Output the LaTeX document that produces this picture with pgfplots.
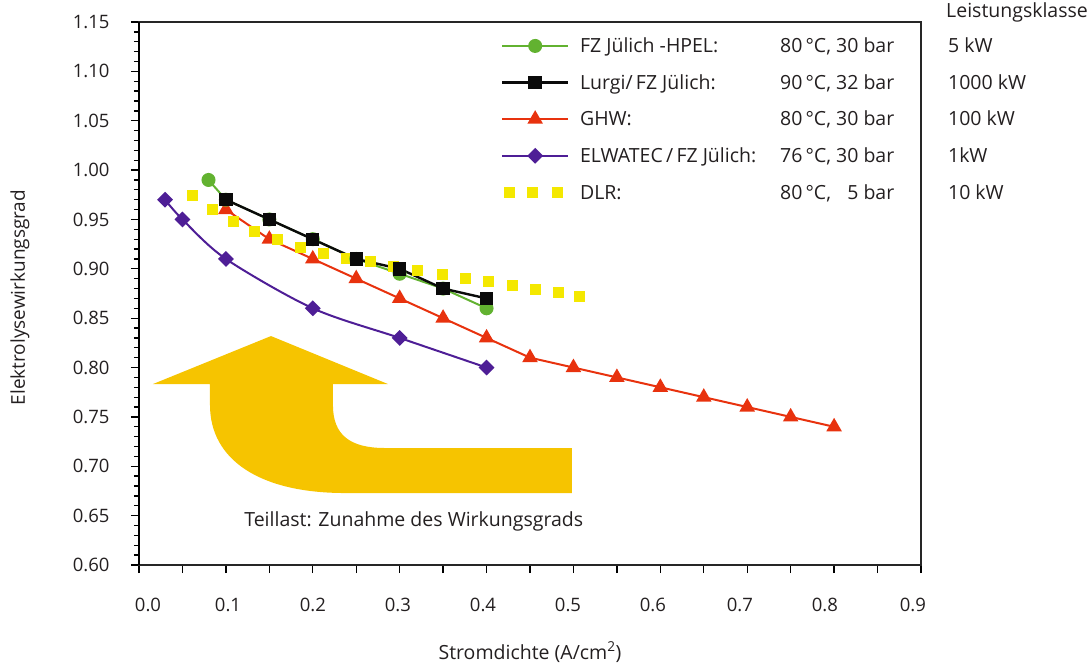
\documentclass[border=0pt]{standalone}
\usepackage{fontspec}
\setmainfont{Open Sans}
\usepackage{pgfplots}
\pgfplotsset{compat=1.18}
\definecolor{cgreen}{RGB}{98,178,48}
\definecolor{cblack}{RGB}{10,10,10}
\definecolor{cred}{RGB}{232,50,14}
\definecolor{cpurple}{RGB}{78,30,150}
\definecolor{cdlr}{RGB}{244,232,0}
\definecolor{carrow}{RGB}{246,196,0}
\definecolor{ctext}{RGB}{35,31,32}
\begin{document}
\begin{tikzpicture}[font=\fontsize{19.5}{22}\selectfont, text=ctext]
\useasboundingbox (-139pt,-102pt) rectangle (951pt,565pt);
\begin{axis}[
  at={(0pt,0pt)}, anchor=south west,
  width=782pt, height=543pt, scale only axis,
  xmin=0, xmax=0.9, ymin=0.6, ymax=1.15,
  xtick={0,0.05,0.1,0.15,0.2,0.25,0.3,0.35,0.4,0.45,0.5,0.55,0.6,0.65,0.7,0.75,0.8,0.85,0.9},
  xticklabels={},
  extra x ticks={0.0104,0.1024,0.2002,0.298,0.3959,0.4937,0.5915,0.6916,0.7894,0.8907},
  extra x tick labels={0.0,0.1,0.2,0.3,0.4,0.5,0.6,0.7,0.8,0.9},
  extra x tick style={major tick length=0pt},
  xticklabel style={yshift=-30pt},
  ytick={0.6,0.65,0.7,0.75,0.8,0.85,0.9,0.95,1.0,1.05,1.1,1.15},
  minor y tick num=4,
  tick align=outside,
  major tick length=8pt, minor tick length=5pt,
  every tick/.style={black, line width=1.3pt},
  xtick pos=bottom, ytick pos=left,
  yticklabel style={/pgf/number format/fixed, /pgf/number format/fixed zerofill, /pgf/number format/precision=2, xshift=-18pt},
  /pgf/number format/assume math mode=true,
  axis line style={line width=1.4pt, black!85},
  ticklabel style={font=\fontsize{18.5}{21}\selectfont, text=ctext},
  legend style={at={(axis description cs:0.463,0.975)}, anchor=north west, draw=none, fill=none,
     row sep=16.3pt, font=\fontsize{19.5}{22}\selectfont, text=ctext, inner sep=0pt,
     nodes={inner xsep=6pt}},
  legend cell align=left,
  legend image code/.code={\draw[mark repeat=2,mark phase=2,#1] plot coordinates {(0cm,0cm) (1.15cm,0cm) (2.3cm,0cm)};},
  clip=false,
]
% annotation arrow
\fill[carrow] (axis cs:0.0817,0.7833) -- (axis cs:0.0161,0.7833) -- (axis cs:0.1519,0.8319) -- (axis cs:0.2865,0.7833)
  -- (axis cs:0.2232,0.7833) -- (axis cs:0.2232,0.7621)
  .. controls (axis cs:0.2232,0.7317) and (axis cs:0.2428,0.7185) .. (axis cs:0.2831,0.7185)
  -- (axis cs:0.4983,0.7185) -- (axis cs:0.4983,0.6729) -- (axis cs:0.2371,0.6729)
  .. controls (axis cs:0.1392,0.6729) and (axis cs:0.0817,0.7064) .. (axis cs:0.0817,0.7621) -- cycle;
\node[anchor=west, text=ctext, inner sep=0pt] at (axis cs:0.121,0.6446) {Teillast: Zunahme des Wirkungsgrads};

% legend entries
\addlegendimage{cgreen, line width=2pt, mark=*, mark size=6pt, mark options={solid, fill=cgreen, draw=cgreen}}
\addlegendentry{\hspace{5pt}\makebox[200pt][l]{FZ Jülich -HPEL:}\makebox[168pt][l]{80\,°C, 30 bar}5 kW}
\addlegendimage{cblack, line width=2.4pt, mark=square*, mark size=5.5pt, mark options={solid, fill=cblack}}
\addlegendentry{\hspace{5pt}\makebox[200pt][l]{Lurgi/\,FZ Jülich:}\makebox[168pt][l]{90\,°C, 32 bar}1000 kW}
\addlegendimage{cred, line width=2pt, mark=triangle*, mark size=7pt, mark options={solid, fill=cred}}
\addlegendentry{\hspace{5pt}\makebox[200pt][l]{GHW:}\makebox[168pt][l]{80\,°C, 30 bar}100 kW}
\addlegendimage{cpurple, line width=2pt, mark=square*, mark size=4.6pt, mark options={solid, fill=cpurple, rotate=45}}
\addlegendentry{\hspace{5pt}\makebox[200pt][l]{ELWATEC\,/\,FZ Jülich:}\makebox[168pt][l]{76\,°C, 30 bar}1kW}
\addlegendimage{legend image code/.code={\fill[cdlr] (2pt,-5pt) rectangle (12pt,5pt); \fill[cdlr] (25pt,-5pt) rectangle (35pt,5pt); \fill[cdlr] (50pt,-5pt) rectangle (60pt,5pt);}}
\addlegendentry{\hspace{5pt}\makebox[200pt][l]{DLR:}\makebox[168pt][l]{80\,°C, \phantom{3}5 bar}10 kW}

% ELWATEC
\addplot[forget plot, cpurple, line width=2pt, smooth, mark=square*, mark size=4.6pt, mark options={solid, fill=cpurple, rotate=45}]
 coordinates {(0.03,0.97) (0.05,0.95) (0.1,0.91) (0.2,0.86) (0.3,0.83) (0.4,0.80)};
% GHW
\addplot[forget plot, cred, line width=2pt, mark=triangle*, mark size=7pt, mark options={solid, fill=cred}]
 coordinates {(0.1,0.96) (0.15,0.93) (0.2,0.91) (0.25,0.89) (0.3,0.87) (0.35,0.85) (0.4,0.83) (0.45,0.81) (0.5,0.80) (0.55,0.79) (0.6,0.78) (0.65,0.77) (0.7,0.76) (0.75,0.75) (0.8,0.74)};
% DLR
\addplot[forget plot, only marks, mark=square*, mark size=5pt, mark options={fill=cdlr, draw=cdlr}]
 coordinates {(0.061,0.975) (0.084,0.960) (0.108,0.948) (0.133,0.938) (0.159,0.930) (0.185,0.922) (0.212,0.916) (0.239,0.911) (0.266,0.908) (0.292,0.903) (0.320,0.899) (0.349,0.895) (0.375,0.891) (0.402,0.887) (0.429,0.883) (0.456,0.879) (0.482,0.876) (0.507,0.872)};
% FZ Juelich HPEL
\addplot[forget plot, cgreen, line width=2pt, mark=*, mark size=6pt, mark options={solid, fill=cgreen, draw=cgreen}]
 coordinates {(0.08,0.99) (0.1,0.97) (0.15,0.95) (0.2,0.93) (0.25,0.91) (0.3,0.895) (0.35,0.88) (0.4,0.86)};
% Lurgi
\addplot[forget plot, cblack, line width=2.4pt, mark=square*, mark size=5.5pt, mark options={solid, fill=cblack}]
 coordinates {(0.1,0.97) (0.15,0.95) (0.2,0.93) (0.25,0.91) (0.3,0.90) (0.35,0.88) (0.4,0.87)};
\draw[line width=2.6pt, black] (rel axis cs:0,0) -- (rel axis cs:0,1);
\end{axis}
\node[anchor=base west, inner sep=0pt] at (807pt,547pt) {Leistungsklasse};
\node[rotate=90, font=\fontsize{19}{22}\selectfont] at (-119pt,267.5pt) {Elektrolysewirkungsgrad};
\node[font=\fontsize{19.5}{22}\selectfont] at (391pt,-87pt) {Stromdichte (A/cm\textsuperscript{2})};
\end{tikzpicture}
\end{document}
